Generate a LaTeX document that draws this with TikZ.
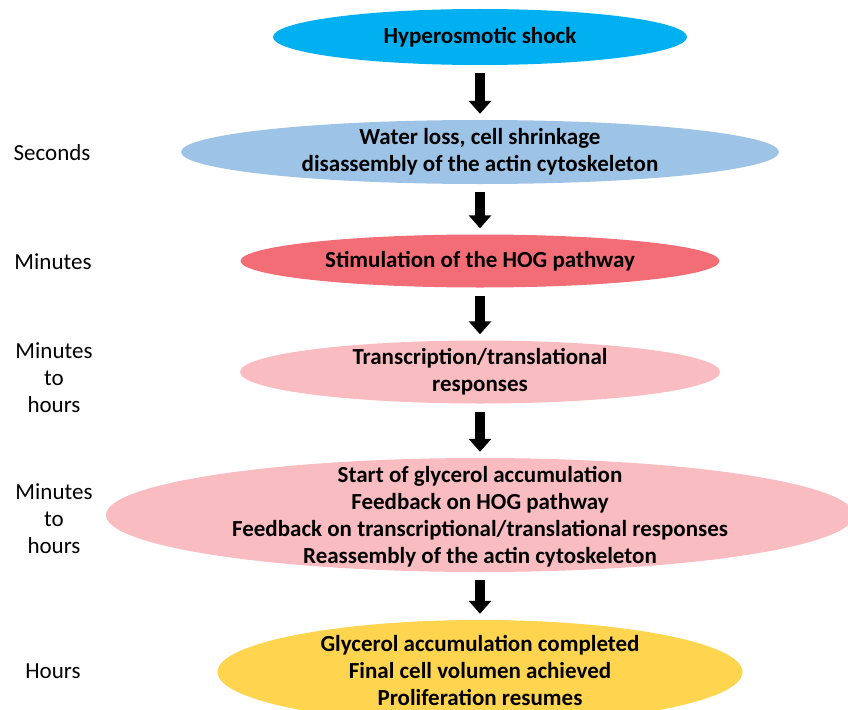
\documentclass[tikz,border=0pt]{standalone}
\usepackage{fontspec}
\setmainfont{Carlito}
\usetikzlibrary{shapes.geometric,arrows.meta}
\definecolor{shockblue}{HTML}{00B0F0}
\definecolor{lossblue}{HTML}{9DC3E6}
\definecolor{hogred}{HTML}{F36D77}
\definecolor{respink}{HTML}{F9BCC1}
\definecolor{endgold}{HTML}{FFD54F}
\begin{document}
\begin{tikzpicture}
  [x=1pt,y=-1pt,
   blob/.style={ellipse,inner sep=0pt},
   txt/.style={align=center,font=\fontsize{23}{27}\selectfont\bfseries},
   time/.style={align=center,font=\fontsize{23}{27}\selectfont},
   flow/.style={line width=10pt,-{Triangle[width=22pt,length=13pt]},shorten <=8pt,shorten >=6pt}]
  \useasboundingbox (0,0) rectangle (848,709);

  \node[blob,fill=shockblue,minimum width=414pt,minimum height=56pt] (e1) at (480,37) {};
  \node[blob,fill=lossblue,minimum width=598pt,minimum height=64pt] (e2) at (480,152) {};
  \node[blob,fill=hogred,minimum width=479pt,minimum height=53pt] (e3) at (480,261) {};
  \node[blob,fill=respink,minimum width=480pt,minimum height=63pt] (e4) at (480,372) {};
  \node[blob,fill=respink,minimum width=748pt,minimum height=114pt] (e5) at (480,515) {};
  \node[blob,fill=endgold,minimum width=525pt,minimum height=104pt] (e6) at (480,672) {};

  \node[txt] (t1) at (e1) {Hyperosmotic shock};
  \node[txt] (t2) at (e2) {Water loss, cell shrinkage\\disassembly of the actin cytoskeleton};
  \node[txt] (t3) at (e3) {Stimulation of the HOG pathway};
  \node[txt] (t4) at (e4) {Transcription/translational\\responses};
  \node[txt] (t5) at (480,517) {Start of glycerol accumulation\\Feedback on HOG pathway\\Feedback on transcriptional/translational responses\\Reassembly of the actin cytoskeleton};
  \node[txt] (t6) at (480,670) {Glycerol accumulation completed\\Final cell volumen achieved\\Proliferation resumes};

  \node[time] (s2) at (52,153) {Seconds};
  \node[time] (s3) at (53,262) {Minutes};
  \node[time] (s4) at (54,378) {Minutes\\to\\hours};
  \node[time] (s5) at (54,519) {Minutes\\to\\hours};
  \node[time] (s6) at (53,671) {Hours};

  \foreach \from/\to in {e1/e2,e2/e3,e3/e4,e4/e5,e5/e6}
    \draw[flow] (\from.south) -- (\to.north);

\end{tikzpicture}
\end{document}
